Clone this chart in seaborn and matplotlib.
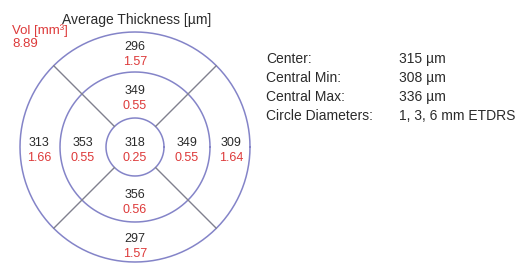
"""ETDRS retinal thickness map: average thickness [µm] and volume [mm³] per sector."""
import numpy as np
import pandas as pd
import matplotlib
matplotlib.use("Agg")
import matplotlib.pyplot as plt
import seaborn as sns

# ---- data (order of ring sectors: superior, nasal/right, inferior, left) ----------
SECTOR_ANGLES = [90, 0, 270, 180]
CENTER_THICK = 318
CENTER_VOL = 0.25
INNER_THICK = [349, 349, 356, 353]
INNER_VOL = [0.55, 0.55, 0.56, 0.55]
OUTER_THICK = [296, 309, 297, 313]
OUTER_VOL = [1.57, 1.64, 1.57, 1.66]
TOTAL_VOL = 8.89
SUMMARY_LABELS = ["Center:", "Central Min:", "Central Max:", "Circle Diameters:"]
SUMMARY_VALUES = ["315 µm", "308 µm", "336 µm", "1, 3, 6 mm ETDRS"]

# ---- layout (pixels) ---------------------------------------------------------------
CX, CY = 135, 147
R_INNER, R_MID, R_OUTER = 29, 75, 115
RING_COLOR = "#8484c8"
SPOKE_COLOR = "#80808e"
DARK = "#2b2b2b"
RED = "#dd3a3a"
FONT = ["Liberation Sans", "DejaVu Sans"]

sns.set_theme(style="white")
plt.rcParams["font.family"] = FONT

fig = plt.figure(figsize=(5.2, 2.64), dpi=100)
ax = fig.add_axes([0, 0, 1, 1])
ax.set_xlim(0, 520)
ax.set_ylim(264, 0)
ax.axis("off")

# rings
theta = np.linspace(0, 2 * np.pi, 361)
rings = pd.DataFrame([
    {"ring": r, "x": CX + r * np.cos(t), "y": CY + r * np.sin(t), "order": i}
    for r in (R_INNER, R_MID, R_OUTER) for i, t in enumerate(theta)
])
sns.lineplot(data=rings, x="x", y="y", units="ring", estimator=None, sort=False,
             color=RING_COLOR, lw=1.1, ax=ax)

# diagonal spokes between inner and outer circle
for a in (45, 135, 225, 315):
    c, s = np.cos(np.radians(a)), np.sin(np.radians(a))
    ax.plot([CX + R_INNER * c, CX + R_OUTER * c], [CY - R_INNER * s, CY - R_OUTER * s],
            color=SPOKE_COLOR, lw=1.0)


def sector_label(x, y, thick, vol):
    ax.text(x, y - 4, f"{thick}", ha="center", va="center", fontsize=9, color=DARK)
    ax.text(x, y + 11, f"{vol:.2f}", ha="center", va="center", fontsize=9, color=RED)


sector_label(CX, CY, CENTER_THICK, CENTER_VOL)
r_in = (R_INNER + R_MID) / 2
r_out = (R_MID + R_OUTER) / 2 + 1
for ang, t_in, v_in, t_out, v_out in zip(SECTOR_ANGLES, INNER_THICK, INNER_VOL, OUTER_THICK, OUTER_VOL):
    c, s = np.cos(np.radians(ang)), np.sin(np.radians(ang))
    sector_label(CX + r_in * c, CY - r_in * s, t_in, v_in)
    sector_label(CX + r_out * c, CY - r_out * s, t_out, v_out)

# headings
ax.text(CX + 2, 20, "Average Thickness [µm]", ha="center", va="center", fontsize=10, color=DARK)
ax.text(12, 31, "Vol [mm³]", ha="left", va="center", fontsize=9.5, color=RED)
ax.text(12, 44, f"{TOTAL_VOL:.2f}", ha="left", va="center", fontsize=9.5, color=RED)

# summary table on the right
for i, (lab, val) in enumerate(zip(SUMMARY_LABELS, SUMMARY_VALUES)):
    y = 59 + i * 19
    ax.text(266, y, lab, ha="left", va="center", fontsize=10, color=DARK)
    ax.text(399, y, val, ha="left", va="center", fontsize=10, color=DARK)

fig.savefig("out.png", dpi=100, facecolor="white")
plt.close(fig)
